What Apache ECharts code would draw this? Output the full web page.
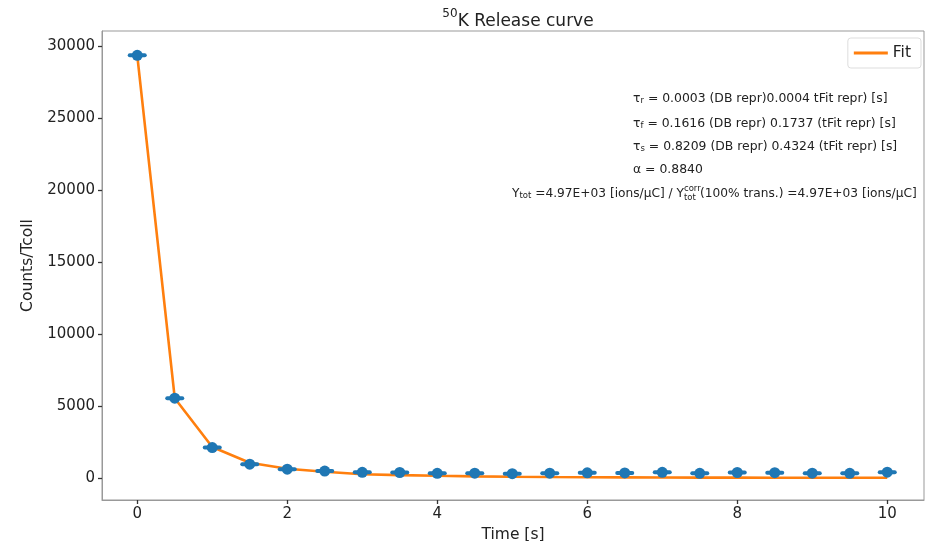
<!DOCTYPE html>
<html>
<head>
<meta charset="utf-8">
<script src="https://cdn.jsdelivr.net/npm/echarts@6/dist/echarts.min.js"></script>
<style>
  html, body { margin: 0; padding: 0; background: #fff; }
  #chart { width: 940px; height: 541px; }
</style>
</head>
<body>
<div id="chart"></div>
<script>
// Release measurement: time after collection (s) and counts per collection time
const times = [0, 0.5, 1, 1.5, 2, 2.5, 3, 3.5, 4, 4.5, 5, 5.5, 6, 6.5, 7, 7.5, 8, 8.5, 9, 9.5, 10];
const counts = [29350, 5540, 2110, 960, 610, 480, 390, 380, 320, 330, 300, 330, 360, 350, 390, 320, 380, 370, 330, 320, 400];
const timeErr = [0.1, 0.1, 0.1, 0.1, 0.1, 0.1, 0.1, 0.1, 0.1, 0.1, 0.1, 0.1, 0.1, 0.1, 0.1, 0.1, 0.1, 0.1, 0.1, 0.1, 0.1];
// Fitted release function evaluated at the same times
const fitValues = [29350, 5540, 2150, 1060, 640, 430, 260, 200, 150, 110, 85, 65, 50, 40, 32, 26, 22, 18, 15, 13, 10];
// Tick positions
const xTicks = [0, 2, 4, 6, 8, 10];
const yTicks = [0, 5000, 10000, 15000, 20000, 25000, 30000];

const FONT = 'DejaVu Sans';
const BLUE = '#1f77b4';
const ORANGE = '#ff7f0e';
const INK = '#222';

const measured = times.map((t, i) => [t, counts[i], timeErr[i]]);
const fitted = times.map((t, i) => [t, fitValues[i]]);

const chart = echarts.init(document.getElementById('chart'), null, { renderer: 'canvas' });

const ANNO_SIZE = 12.4;
const YIELD_SIZE = 12.2;
const SUB_SIZE = 8.5;

function richStyles(size) {
  return {
    m: { fontFamily: FONT, fontSize: size, fill: INK, verticalAlign: 'middle' },
    s: { fontFamily: FONT, fontSize: SUB_SIZE, fill: INK, verticalAlign: 'bottom' }
  };
}

function annoLine(x, y, text, align, size) {
  const fs = size || ANNO_SIZE;
  return {
    type: 'text', x: x, y: y, z: 100,
    style: {
      text: text, fontFamily: FONT, fontSize: fs, fill: INK,
      align: align || 'left', verticalAlign: 'middle', rich: richStyles(fs)
    }
  };
}

function smallText(x, y, text) {
  return {
    type: 'text', x: x, y: y, z: 100,
    style: { text: text, fontFamily: FONT, fontSize: SUB_SIZE, fill: INK, align: 'left', verticalAlign: 'middle' }
  };
}

chart.setOption({
  animation: false,
  backgroundColor: '#fff',
  title: {
    text: '{sup|50}{m|K Release curve}',
    left: 513, top: 3, textAlign: 'center',
    textStyle: {
      fontWeight: 'normal',
      rich: {
        sup: { fontFamily: FONT, fontSize: 12, fontWeight: 'normal', color: INK, verticalAlign: 'top', lineHeight: 22 },
        m: { fontFamily: FONT, fontSize: 17, fontWeight: 'normal', color: INK, verticalAlign: 'bottom', lineHeight: 22 }
      }
    }
  },
  grid: {
    left: 102, right: 16, top: 31, bottom: 41,
    outerBoundsMode: 'none', containLabel: false,
    show: true, borderColor: '#999', borderWidth: 1, backgroundColor: 'transparent'
  },
  legend: {
    data: ['Fit'],
    right: 19, top: 38,
    icon: 'rect', itemWidth: 34, itemHeight: 3, itemGap: 11,
    padding: [7, 10, 7, 6],
    backgroundColor: '#fff', borderColor: '#ddd', borderWidth: 1, borderRadius: 3,
    textStyle: { fontFamily: FONT, fontSize: 15.5, color: INK }
  },
  xAxis: {
    type: 'value', min: -0.47, max: 10.49,
    name: 'Time [s]', nameLocation: 'middle', nameGap: 23,
    nameTextStyle: { fontFamily: FONT, fontSize: 15.5, color: INK },
    splitLine: { show: false },
    axisLine: { show: true, onZero: false, lineStyle: { color: '#999', width: 1 } },
    axisTick: { show: true, inside: false, length: 4, customValues: xTicks, lineStyle: { color: '#333', width: 1.3 } },
    axisLabel: { customValues: xTicks, margin: 7, fontFamily: FONT, fontSize: 15, color: INK }
  },
  yAxis: {
    type: 'value', min: -1530, max: 31040,
    name: 'Counts/Tcoll', nameLocation: 'middle', nameGap: 60, nameRotate: 90,
    nameTextStyle: { fontFamily: FONT, fontSize: 15.5, color: INK },
    splitLine: { show: false },
    axisLine: { show: true, onZero: false, lineStyle: { color: '#999', width: 1 } },
    axisTick: { show: true, inside: false, length: 4, customValues: yTicks, lineStyle: { color: '#333', width: 1.3 } },
    axisLabel: { customValues: yTicks, margin: 7, fontFamily: FONT, fontSize: 15, color: INK, formatter: v => String(v) }
  },
  series: [
    {
      name: 'Fit', type: 'line', data: fitted,
      showSymbol: false, symbol: 'none', z: 2,
      lineStyle: { color: ORANGE, width: 2.6 },
      itemStyle: { color: ORANGE }
    },
    {
      name: 'errors', type: 'custom', z: 3,
      renderItem: function (params, api) {
        const t = api.value(0), y = api.value(1), e = api.value(2);
        const p0 = api.coord([t - e, y]);
        const p1 = api.coord([t + e, y]);
        return {
          type: 'line',
          shape: { x1: p0[0], y1: p0[1], x2: p1[0], y2: p1[1] },
          style: { stroke: BLUE, lineWidth: 4, lineCap: 'round' }
        };
      },
      encode: { x: 0, y: 1 },
      data: measured
    },
    {
      name: 'data', type: 'scatter', z: 4,
      symbol: 'circle', symbolSize: 11,
      itemStyle: { color: BLUE, opacity: 1 },
      data: measured.map(d => [d[0], d[1]])
    }
  ],
  graphic: [
    annoLine(633, 99, '{m|τ}{s|r}{m| = 0.0003 (DB repr)0.0004 tFit repr) [s]}'),
    annoLine(633, 124, '{m|τ}{s|f}{m| = 0.1616 (DB repr) 0.1737 (tFit repr) [s]}'),
    annoLine(633, 147, '{m|τ}{s|s}{m| = 0.8209 (DB repr) 0.4324 (tFit repr) [s]}'),
    annoLine(633, 170, '{m|α = 0.8840}'),
    annoLine(684, 194, '{m|Y}{s|tot}{m| =4.97E+03 [ions/μC] / Y}', 'right', YIELD_SIZE),
    smallText(684, 189, 'corr'),
    smallText(684, 198, 'tot'),
    annoLine(700, 194, '{m|(100% trans.) =4.97E+03 [ions/μC]}', 'left', YIELD_SIZE)
  ]
});
</script>
</body>
</html>
